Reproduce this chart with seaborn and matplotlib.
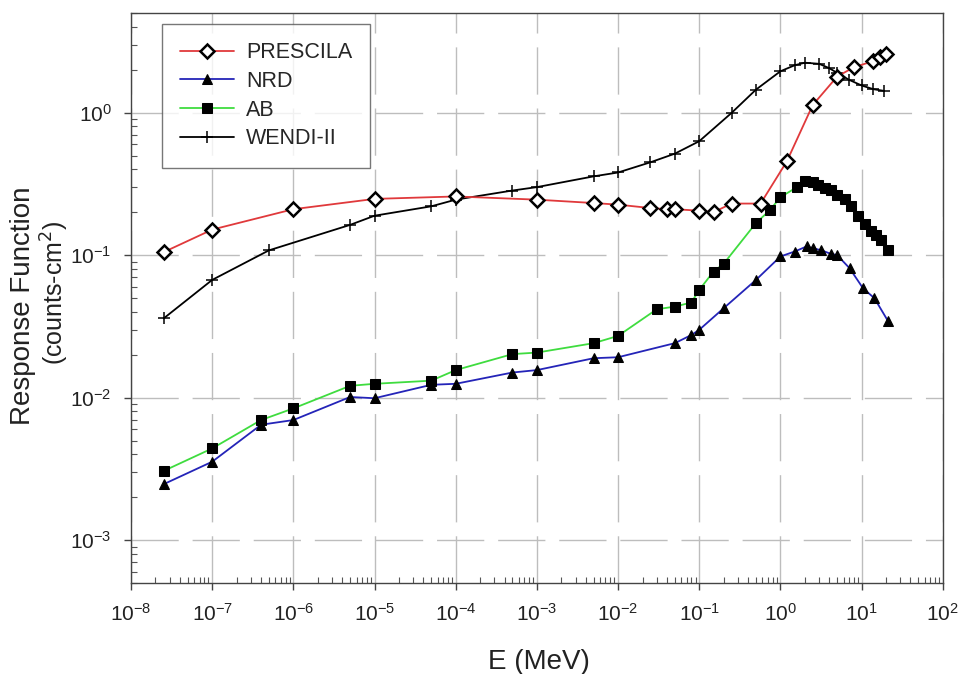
import numpy as np
import pandas as pd
import matplotlib
matplotlib.use("Agg")
import matplotlib.pyplot as plt
import matplotlib.ticker as mticker
import seaborn as sns

# response functions (E in MeV, counts-cm^2)
prescila_e = [2.53e-8, 1e-7, 1e-6, 1e-5, 1e-4, 1e-3, 5e-3, 1e-2, 2.5e-2, 4e-2, 5e-2,
              0.1, 0.15, 0.25, 0.57, 1.2, 2.5, 5.0, 8.0, 14.0, 17.0, 20.0]
prescila_r = [0.105, 0.151, 0.21, 0.248, 0.258, 0.245, 0.232, 0.226, 0.214, 0.21, 0.21,
              0.205, 0.2, 0.23, 0.23, 0.455, 1.13, 1.79, 2.08, 2.3, 2.45, 2.58]

nrd_e = [2.53e-8, 1e-7, 4e-7, 1e-6, 5e-6, 1e-5, 5e-5, 1e-4, 5e-4, 1e-3, 5e-3, 1e-2,
         5e-2, 8e-2, 0.1, 0.2, 0.5, 1.0, 1.5, 2.1, 2.5, 3.2, 4.2, 5.0, 7.1, 10.4, 14.4, 21.0]
nrd_r = [2.47e-3, 3.55e-3, 6.45e-3, 6.96e-3, 0.0101, 0.0099, 0.0123, 0.0125, 0.015, 0.0156,
         0.0189, 0.0192, 0.0241, 0.0275, 0.0299, 0.0424, 0.067, 0.0978, 0.106, 0.115, 0.112,
         0.108, 0.102, 0.1, 0.081, 0.0586, 0.0498, 0.0347]

ab_e = [2.53e-8, 1e-7, 4e-7, 1e-6, 5e-6, 1e-5, 5e-5, 1e-4, 5e-4, 1e-3, 5e-3, 1e-2,
        3e-2, 5e-2, 8e-2, 0.1, 0.15, 0.2, 0.5, 0.75, 1.0, 1.6, 2.0, 2.5, 2.9, 3.5, 4.2,
        5.0, 6.2, 7.5, 9.0, 11.0, 13.2, 15.0, 17.5, 21.0]
ab_r = [3.06e-3, 4.4e-3, 6.96e-3, 8.4e-3, 0.0121, 0.0125, 0.01315, 0.0156, 0.0202, 0.0207,
        0.0241, 0.0271, 0.0417, 0.0435, 0.0465, 0.057, 0.0767, 0.087, 0.168, 0.208, 0.255,
        0.30, 0.333, 0.325, 0.312, 0.298, 0.285, 0.265, 0.248, 0.22, 0.187, 0.165, 0.148,
        0.138, 0.128, 0.108]

wendi_e = [2.53e-8, 1e-7, 5e-7, 5e-6, 1e-5, 5e-5, 1e-4, 5e-4, 1e-3, 5e-3, 1e-2, 2.5e-2,
           5e-2, 0.1, 0.25, 0.5, 1.0, 1.5, 2.0, 3.0, 4.0, 5.0, 7.0, 10.0, 14.0, 19.0]
wendi_r = [0.036, 0.067, 0.108, 0.163, 0.189, 0.22, 0.245, 0.284, 0.30, 0.357, 0.38, 0.448,
           0.515, 0.63, 0.995, 1.45, 1.95, 2.15, 2.24, 2.2, 2.05, 1.9, 1.7, 1.55, 1.46, 1.42]

labels = ["PRESCILA", "NRD", "AB", "WENDI-II"]

sns.set_style("white")
plt.rcParams["font.family"] = ["Liberation Sans", "DejaVu Sans"]

fig, ax = plt.subplots(figsize=(9.62, 6.74), dpi=100)
fig.subplots_adjust(left=0.1362, right=0.980, top=0.9807, bottom=0.135)

sns.lineplot(x=prescila_e, y=prescila_r, ax=ax, color="#e0393b", linewidth=1.3,
             marker="D", markersize=7.5, markerfacecolor="white", markeredgecolor="black",
             markeredgewidth=1.8, label=labels[0], zorder=4)
sns.lineplot(x=nrd_e, y=nrd_r, ax=ax, color="#2424b8", linewidth=1.3,
             marker="^", markersize=7.5, markerfacecolor="black", markeredgecolor="black",
             label=labels[1], zorder=3)
sns.lineplot(x=ab_e, y=ab_r, ax=ax, color="#3fdc3f", linewidth=1.3,
             marker="s", markersize=6.5, markerfacecolor="black", markeredgecolor="black",
             label=labels[2], zorder=3)
sns.lineplot(x=wendi_e, y=wendi_r, ax=ax, color="black", linewidth=1.3,
             marker="+", markersize=8, markeredgewidth=1.1, markeredgecolor="black",
             label=labels[3], zorder=3)

ax.set_xscale("log")
ax.set_yscale("log")
ax.set_xlim(1e-8, 1e2)
ax.set_ylim(5e-4, 5)

ax.xaxis.set_major_locator(mticker.LogLocator(base=10, numticks=20))
ax.yaxis.set_major_locator(mticker.LogLocator(base=10, numticks=20))
ax.xaxis.set_minor_locator(mticker.LogLocator(base=10, subs=np.arange(2, 10), numticks=200))
ax.yaxis.set_minor_locator(mticker.LogLocator(base=10, subs=np.arange(2, 10), numticks=200))
ax.xaxis.set_minor_formatter(mticker.NullFormatter())
ax.yaxis.set_minor_formatter(mticker.NullFormatter())

ax.grid(True, which="major", color="#bdbdbd", linestyle=(0, (34, 10)), linewidth=1.0)
ax.set_axisbelow(True)

ax.tick_params(which="both", bottom=True, left=True, top=False, right=False)
ax.tick_params(which="major", direction="out", length=5, width=1, colors="#444444",
               labelsize=15, labelcolor="#222222", pad=9)
ax.tick_params(which="minor", direction="in", length=4.5, width=0.8, colors="#555555")

for sp in ax.spines.values():
    sp.set_color("#444444")
    sp.set_linewidth(1.0)

ax.set_xlabel("")
ax.set_ylabel("")
fig.text(539 / 962, 1 - 662 / 674, "E (MeV)", fontsize=20, color="#222222",
         ha="center", va="center")
fig.text(23 / 962, 1 - 306 / 674, "Response Function", fontsize=20, color="#222222",
         rotation=90, ha="center", va="center")
fig.text(55 / 962, 1 - 293 / 674, "(counts-cm$^2$)", fontsize=18, color="#222222",
         rotation=90, ha="center", va="center")

leg = ax.legend(loc="upper left", bbox_to_anchor=(0.038, 0.981), borderaxespad=0,
                fontsize=15.5, frameon=True, fancybox=False, edgecolor="#555555",
                handlelength=2.5, handletextpad=0.55, labelspacing=0.36,
                borderpad=0.85)
leg.get_frame().set_linewidth(1.0)

fig.savefig("out.png", dpi=100)
